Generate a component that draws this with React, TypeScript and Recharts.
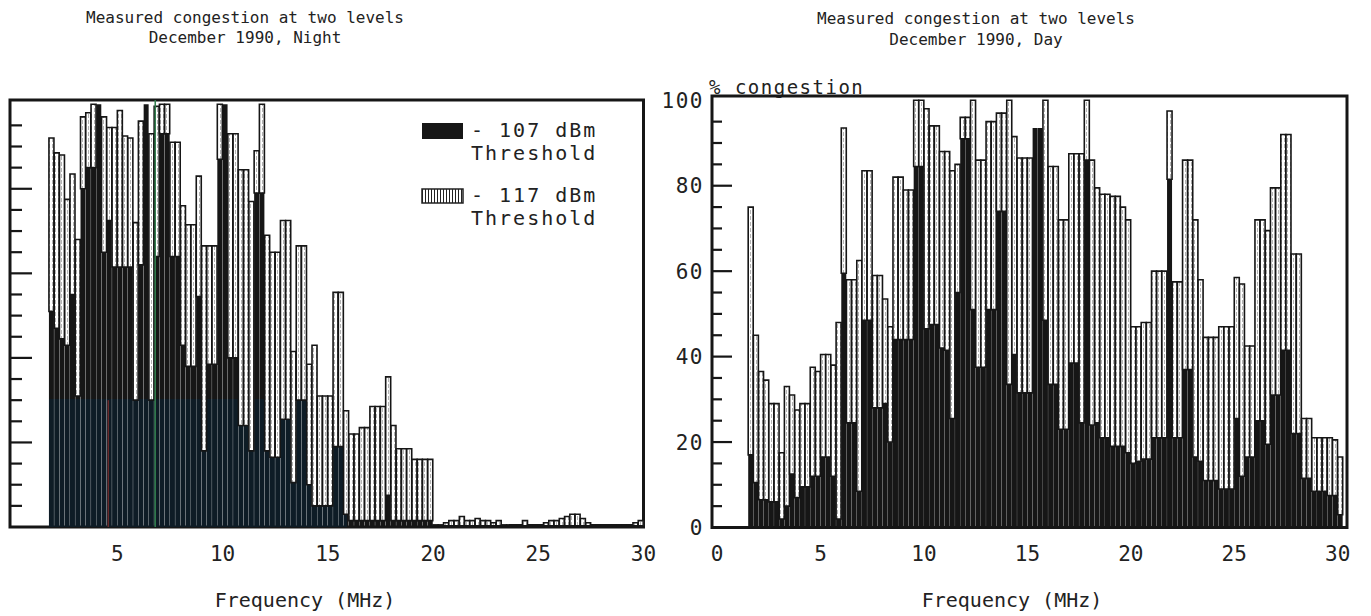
import React from 'react';
import { ComposedChart, Bar, XAxis, YAxis, ReferenceArea, ReferenceLine, Legend } from 'recharts';

const FONT = '"DejaVu Sans Mono", monospace';
const INK = '#161616';

// ---------- Night panel (bin centres, MHz) ----------
const nightFreq = [
  1.875,
  2.125, 2.375, 2.625, 2.875, 3.125, 3.375, 3.625, 3.875, 4.125, 4.375, 4.625, 4.875,
  5.125, 5.375, 5.625, 5.875, 6.125, 6.375, 6.625, 6.875, 7.125, 7.375, 7.625, 7.875,
  8.125, 8.375, 8.625, 8.875, 9.125, 9.375, 9.625, 9.875, 10.125, 10.375, 10.625, 10.875,
  11.125, 11.375, 11.625, 11.875, 12.125, 12.375, 12.625, 12.875, 13.125, 13.375, 13.625, 13.875,
  14.125, 14.375, 14.625, 14.875, 15.125, 15.375, 15.625, 15.875, 16.125, 16.375, 16.625, 16.875,
  17.125, 17.375, 17.625, 17.875, 18.125, 18.375, 18.625, 18.875, 19.125, 19.375, 19.625, 19.875,
  20.125, 20.375, 20.625, 20.875, 21.125, 21.375, 21.625, 21.875, 22.125, 22.375, 22.625, 22.875,
  23.125, 23.375, 23.625, 23.875, 24.125, 24.375, 24.625, 24.875, 25.125, 25.375, 25.625, 25.875,
  26.125, 26.375, 26.625, 26.875, 27.125, 27.375, 27.625, 27.875, 28.125, 28.375, 28.625, 28.875,
  29.125, 29.375, 29.625, 29.875,
];
// % congestion at -117 dBm threshold (night)
const night117 = [
  92,
  88.5, 88, 77.5, 83.5, 68, 97, 98, 100, 100, 97, 94.5, 94.5,
  98.5, 92.5, 92, 72, 96, 100, 93, 99.5, 100, 100, 91, 91,
  76, 71.5, 71.5, 83, 66.5, 66.5, 66.5, 100, 100, 93, 93, 84.5,
  84.5, 77, 89, 100, 69, 65, 65, 72.5, 72.5, 41.5, 66.5, 66.5,
  38.5, 43, 31, 31, 31, 55.5, 55.5, 27.5, 22, 22, 23.5, 23.5,
  28.5, 28.5, 28.5, 35.5, 24, 18.5, 18.5, 18.5, 16, 16, 16, 16,
  0.5, 0.5, 1, 1.5, 1.5, 2.5, 1.5, 1.5, 2, 1.5, 1.5, 1,
  1.5, 0.5, 0.5, 0.5, 0.5, 1.5, 0.5, 0.5, 0.5, 1, 1.5, 1.5,
  2, 2.5, 3, 3, 2, 1, 0.5, 0.5, 0.5, 0.5, 0.5, 0.5,
  0.5, 0.5, 1, 1.5,
];
// % congestion at -107 dBm threshold (night)
const night107 = [
  51,
  47, 44.5, 43, 55, 31, 80, 85, 85, 100, 65, 72.5, 61.5,
  61.5, 61.5, 61.5, 30, 62, 100, 30, 64, 93, 93, 64, 64,
  43, 38, 38, 54.5, 18, 38.5, 38.5, 87, 100, 40, 40, 24,
  24, 18, 79, 79, 18, 16.5, 16.5, 25.5, 25.5, 10.5, 30, 30,
  10, 5, 5, 5, 5, 19, 19, 3, 1.5, 1.5, 1.5, 1.5,
  1.5, 1.5, 1.5, 7.5, 1.5, 1.5, 1.5, 1.5, 1.5, 1.5, 1.5, 1.5,
  0.3, 0.3, 0.3, 0.3, 0.3, 0.3, 0.3, 0.3, 0.3, 0.3, 0.3, 0.3,
  0.3, 0.3, 0.3, 0.3, 0.3, 0.3, 0.3, 0.3, 0.3, 0.3, 0.3, 0.3,
  0.3, 0.3, 0.3, 0.3, 0.3, 0.3, 0.3, 0.3, 0.3, 0.3, 0.3, 0.3,
  0.3, 0.3, 0.3, 0.3,
];

// ---------- Day panel (bin centres, MHz) ----------
const dayFreq = [
  1.625, 1.875,
  2.125, 2.375, 2.625, 2.875, 3.125, 3.375, 3.625, 3.875, 4.125, 4.375, 4.625, 4.875,
  5.125, 5.375, 5.625, 5.875, 6.125, 6.375, 6.625, 6.875, 7.125, 7.375, 7.625, 7.875,
  8.125, 8.375, 8.625, 8.875, 9.125, 9.375, 9.625, 9.875, 10.125, 10.375, 10.625, 10.875,
  11.125, 11.375, 11.625, 11.875, 12.125, 12.375, 12.625, 12.875, 13.125, 13.375, 13.625, 13.875,
  14.125, 14.375, 14.625, 14.875, 15.125, 15.375, 15.625, 15.875, 16.125, 16.375, 16.625, 16.875,
  17.125, 17.375, 17.625, 17.875, 18.125, 18.375, 18.625, 18.875, 19.125, 19.375, 19.625, 19.875,
  20.125, 20.375, 20.625, 20.875, 21.125, 21.375, 21.625, 21.875, 22.125, 22.375, 22.625, 22.875,
  23.125, 23.375, 23.625, 23.875, 24.125, 24.375, 24.625, 24.875, 25.125, 25.375, 25.625, 25.875,
  26.125, 26.375, 26.625, 26.875, 27.125, 27.375, 27.625, 27.875, 28.125, 28.375, 28.625, 28.875,
  29.125, 29.375, 29.625, 29.875, 30.125,
];
const day117 = [
  75, 45,
  36.5, 34.5, 29, 29, 17.5, 33, 31, 27.5, 29, 29, 37.5, 36.5,
  40.5, 40.5, 38, 48, 93.5, 58, 58, 62.5, 83.5, 83.5, 59, 59,
  53.5, 47, 82, 82, 79, 79, 100, 100, 98, 94, 94, 88,
  88, 83.5, 85, 96, 96, 100, 86, 86, 95, 95, 97, 97,
  100, 91.5, 86.5, 86.5, 86.5, 93.5, 93.5, 100, 84.5, 84.5, 72, 72,
  87.5, 87.5, 87.5, 100, 86, 79.5, 78, 78, 77.5, 77.5, 75, 72,
  47, 47, 48, 48, 60, 60, 60, 97.5, 57.5, 57.5, 86, 86,
  72, 58, 44.5, 44.5, 44.5, 47, 47, 47, 58.5, 57, 42.5, 42.5,
  72, 72, 69.5, 79.5, 79.5, 92, 92, 64, 64, 25.5, 25.5, 21,
  21, 21, 21, 20.5, 16.5,
];
const day107 = [
  17, 10.5,
  6.5, 6.5, 6, 6, 2, 5, 12.5, 7, 9.5, 9.5, 12, 12,
  16.5, 16.5, 12, 2, 59.5, 24.5, 24.5, 8.5, 48.5, 48.5, 28, 28,
  29, 20, 44, 44, 44, 44, 84.5, 84.5, 46.5, 47.5, 47.5, 42,
  41.5, 25.5, 55, 91, 91, 51, 37.5, 37.5, 51, 51, 74, 74,
  33.5, 40.5, 31.5, 31.5, 31.5, 93.5, 93.5, 48.5, 33.5, 33.5, 23, 23,
  38.5, 38.5, 24.5, 86, 24, 24.5, 21, 21, 19, 19, 19, 17.5,
  15, 15.5, 16, 16, 21, 21, 21, 81.5, 21, 21, 37, 37,
  16.5, 15.5, 11, 11, 11, 9, 9, 9, 25.5, 12, 16.5, 16.5,
  25, 25, 19.5, 31, 31, 41.5, 41.5, 22, 22, 11.5, 11.5, 8.5,
  8.5, 8.5, 7.5, 7.5, 3,
];

const nightXTicks = [5, 10, 15, 20, 25, 30];
const dayXTicks = [0, 5, 10, 15, 20, 25, 30];
const yTicks = [0, 5, 10, 15, 20, 25, 30, 35, 40, 45, 50, 55, 60, 65, 70, 75, 80, 85, 90, 95, 100];

const SERIES_107 = '- 107 dBm|Threshold';
const SERIES_117 = '- 117 dBm|Threshold';

function buildTable(freq: number[], hi: number[], lo: number[]) {
  return freq.map((f, i) => ({ f, lo: lo[i], extra: Math.max(0, hi[i] - lo[i]) }));
}

const nightData = buildTable(nightFreq, night117, night107);
const dayData = buildTable(dayFreq, day117, day107);

const XTick = (props: any) => {
  const { x, y, payload } = props;
  return (
    <text x={x} y={y + 11} dy="0.71em" textAnchor="middle" fontFamily={FONT} fontSize={21} fill="#222">
      {payload.value}
    </text>
  );
};

const NightYTick = (props: any) => {
  const { x, y, payload } = props;
  const v = payload.value;
  if (v === 0 || v === 100) return <g />;
  const len = v % 20 === 0 ? 22 : 12;
  return <line x1={x} x2={x + len} y1={y} y2={y} stroke={INK} strokeWidth={2.2} />;
};

const DayYTick = (props: any) => {
  const { x, y, payload } = props;
  const v = payload.value;
  const major = v % 20 === 0;
  return (
    <g>
      {v !== 0 && v !== 100 && (
        <line x1={x} x2={x + (major ? 20 : 10)} y1={y} y2={y} stroke={INK} strokeWidth={2.2} />
      )}
      {major && (
        <text x={x - 8} y={y} dy="0.36em" textAnchor="end" fontFamily={FONT} fontSize={21} letterSpacing={1.5} fill="#222">
          {v}
        </text>
      )}
    </g>
  );
};

const LegendContent = (props: any) => {
  const items = [...(props.payload || [])].sort((a: any, b: any) => (a.dataKey === 'lo' ? -1 : 1) - (b.dataKey === 'lo' ? -1 : 1));
  return (
    <div style={{ fontFamily: FONT, color: '#222' }}>
      {items.map((entry: any, i: number) => {
        const [l1, l2] = String(entry.value).split('|');
        return (
          <div key={i} style={{ display: 'flex', alignItems: 'flex-start', height: 65 }}>
            <svg width={44} height={20} style={{ marginTop: 3 }}>
              <defs>
                <pattern id="legHatch" patternUnits="userSpaceOnUse" width={3} height={20}>
                  <rect width={3} height={20} fill="#fff" />
                  <line x1={1.5} x2={1.5} y1={0} y2={20} stroke="#222" strokeWidth={1} />
                </pattern>
              </defs>
              {entry.dataKey === 'lo' ? (
                <rect x={1} y={1} width={41} height={16} fill={INK} />
              ) : (
                <rect x={1} y={2} width={41} height={14} fill="url(#legHatch)" stroke="#222" strokeWidth={1.5} />
              )}
            </svg>
            <div style={{ marginLeft: 6, fontSize: 20, lineHeight: '23px', letterSpacing: 2, textAlign: 'right', whiteSpace: 'pre' }}>
              <div>{l1}</div>
              <div>{l2}</div>
            </div>
          </div>
        );
      })}
    </div>
  );
};

const textStyle: React.CSSProperties = {
  position: 'absolute',
  fontFamily: FONT,
  color: '#222',
  whiteSpace: 'pre',
  transform: 'translateX(-50%)',
  textAlign: 'center',
};

export default function App() {
  return (
    <div style={{ position: 'absolute', left: 0, top: 0, width: 1371, height: 616, background: '#fff', overflow: 'hidden' }}>
      <div style={{ ...textStyle, left: 245, top: 8, fontSize: 16, lineHeight: '20px' }}>
        {'Measured congestion at two levels\nDecember 1990, Night'}
      </div>
      <div style={{ ...textStyle, left: 976, top: 8, fontSize: 16, lineHeight: '21px' }}>
        {'Measured congestion at two levels\nDecember 1990, Day'}
      </div>
      <div style={{ position: 'absolute', left: 709, top: 76, fontFamily: FONT, fontSize: 19, letterSpacing: 1.5, color: '#222' }}>
        % congestion
      </div>
      <div style={{ ...textStyle, left: 305, top: 588, fontSize: 20 }}>Frequency (MHz)</div>
      <div style={{ ...textStyle, left: 1012, top: 588, fontSize: 20 }}>Frequency (MHz)</div>

      {/* Night panel */}
      <div style={{ position: 'absolute', left: 0, top: 0 }}>
        <ComposedChart
          width={670}
          height={616}
          data={nightData}
          margin={{ top: 100, right: 26.5, bottom: 59, left: 0 }}
          barCategoryGap={0}
          barGap={0}
        >
          <defs>
            <pattern id="hatchN" patternUnits="userSpaceOnUse" width={3} height={6}>
              <rect width={3} height={6} fill="#fff" />
              <line x1={1.5} x2={1.5} y1={0} y2={4} stroke="#a0a0a0" strokeWidth={0.8} />
            </pattern>
            <pattern id="blackN" patternUnits="userSpaceOnUse" x={0} y={0} width={670} height={616}>
              <rect width={670} height={616} fill={INK} />
              <rect x={44} y={399} width={303} height={135} fill="#0e1c26" />
            </pattern>
          </defs>
          <XAxis
            type="number"
            dataKey="f"
            domain={[-0.1, 30]}
            ticks={nightXTicks}
            interval={0}
            allowDataOverflow
            tickLine={false}
            axisLine={false}
            tick={<XTick />}
            height={30}
          />
          <YAxis
            type="number"
            domain={[0, 101]}
            ticks={yTicks}
            interval={0}
            allowDataOverflow
            width={10}
            tickSize={0}
            tickMargin={0}
            axisLine={false}
            tickLine={false}
            tick={<NightYTick />}
          />
          <Legend
            layout="vertical"
            align="center"
            verticalAlign="middle"
            content={<LegendContent />}
            wrapperStyle={{ left: 421, top: 119, width: 200, height: 130 }}
          />
          <Bar dataKey="lo" stackId="s" name={SERIES_107} fill="url(#blackN)" isAnimationActive={false} />
          <Bar dataKey="extra" stackId="s" name={SERIES_117} fill="url(#hatchN)" stroke={INK} strokeWidth={1.6} isAnimationActive={false} />
          <ReferenceLine segment={[{ x: 4.57, y: 0 }, { x: 4.57, y: 30 }]} stroke="#6a2a2a" strokeWidth={1.5} />
          <ReferenceLine x={6.8} stroke="#2f7d4c" strokeWidth={1.5} />
          <ReferenceArea x1={-0.1} x2={30} y1={0} y2={101} fill="none" stroke={INK} strokeWidth={3} />
        </ComposedChart>
      </div>

      {/* Day panel */}
      <div style={{ position: 'absolute', left: 650, top: 0 }}>
        <ComposedChart
          width={721}
          height={616}
          data={dayData}
          margin={{ top: 96, right: 24, bottom: 58.5, left: 22 }}
          barCategoryGap={0}
          barGap={0}
        >
          <defs>
            <pattern id="hatchD" patternUnits="userSpaceOnUse" width={3} height={6}>
              <rect width={3} height={6} fill="#fff" />
              <line x1={1.5} x2={1.5} y1={0} y2={4} stroke="#a0a0a0" strokeWidth={0.8} />
            </pattern>
          </defs>
          <XAxis
            type="number"
            dataKey="f"
            domain={[-0.25, 30.45]}
            ticks={dayXTicks}
            interval={0}
            allowDataOverflow
            tickLine={false}
            axisLine={false}
            tick={<XTick />}
            height={30}
          />
          <YAxis
            type="number"
            domain={[0, 101]}
            ticks={yTicks}
            interval={0}
            allowDataOverflow
            width={40}
            tickSize={0}
            tickMargin={0}
            axisLine={false}
            tickLine={false}
            tick={<DayYTick />}
          />
          <Bar dataKey="lo" stackId="s" name={SERIES_107} fill={INK} isAnimationActive={false} />
          <Bar dataKey="extra" stackId="s" name={SERIES_117} fill="url(#hatchD)" stroke={INK} strokeWidth={1.6} isAnimationActive={false} />
          <ReferenceArea x1={-0.25} x2={30.45} y1={0} y2={101} fill="none" stroke={INK} strokeWidth={3} />
        </ComposedChart>
      </div>
    </div>
  );
}
